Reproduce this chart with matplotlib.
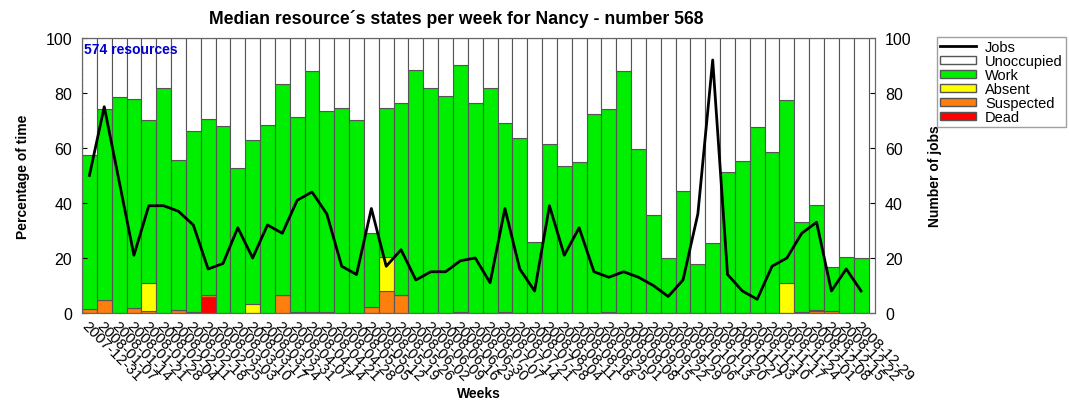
import numpy as np
import matplotlib.pyplot as plt
from matplotlib.patches import Patch
from matplotlib.lines import Line2D

plt.rcParams['font.family'] = ['Liberation Sans', 'DejaVu Sans']

# Weeks
weeks = ["2007-12-31", "2008-01-07", "2008-01-14", "2008-01-21", "2008-01-28",
         "2008-02-04", "2008-02-11", "2008-02-18", "2008-02-25", "2008-03-03",
         "2008-03-10", "2008-03-17", "2008-03-24", "2008-03-31", "2008-04-07",
         "2008-04-14", "2008-04-21", "2008-04-28", "2008-05-05", "2008-05-12",
         "2008-05-19", "2008-05-26", "2008-06-02", "2008-06-09", "2008-06-16",
         "2008-06-23", "2008-06-30", "2008-07-07", "2008-07-14", "2008-07-21",
         "2008-07-28", "2008-08-04", "2008-08-11", "2008-08-18", "2008-08-25",
         "2008-09-01", "2008-09-08", "2008-09-15", "2008-09-22", "2008-09-29",
         "2008-10-06", "2008-10-13", "2008-10-20", "2008-10-27", "2008-11-03",
         "2008-11-10", "2008-11-17", "2008-11-24", "2008-12-01", "2008-12-08",
         "2008-12-15", "2008-12-22", "2008-12-29"]

# top of the occupied part (dead + suspected + absent + work), in %
occupied = [57.5, 74.0, 78.7, 77.8, 70.3, 81.7, 55.8, 66.1, 70.6, 68.0,
            52.9, 63.0, 68.4, 83.2, 71.2, 87.9, 73.6, 74.6, 70.2, 29.2,
            74.6, 76.4, 88.5, 81.8, 78.8, 90.0, 76.4, 81.7, 69.0, 63.7,
            25.7, 61.3, 53.6, 54.8, 72.2, 74.0, 87.9, 59.7, 35.7, 20.1,
            44.2, 17.9, 25.5, 51.2, 55.4, 67.8, 58.5, 77.4, 33.0, 39.1,
            16.6, 20.3, 20.1]

dead = [0.0] * 53
dead[8] = 5.8

suspected = [1.3, 4.8, 0.0, 1.8, 0.8, 0.0, 1.0, 0.3, 0.6, 0.0,
             0.0, 0.0, 0.0, 6.5, 0.3, 0.3, 0.3, 0.0, 0.0, 2.2,
             8.1, 6.4, 0.0, 0.0, 0.0, 0.4, 0.0, 0.0, 0.4, 0.0,
             0.0, 0.0, 0.0, 0.0, 0.0, 0.2, 0.0, 0.0, 0.0, 0.0,
             0.0, 0.0, 0.0, 0.0, 0.0, 0.0, 0.0, 0.0, 0.5, 0.8,
             0.8, 0.0, 0.0]

absent = [0.0] * 53
absent[4] = 10.1
absent[11] = 3.4
absent[20] = 12.2
absent[47] = 10.9
absent[49] = 0.4

jobs = [50, 75, 48, 21, 39, 39, 37, 32, 16, 18,
        31, 20, 32, 29, 41, 44, 36, 17, 14, 38,
        17, 23, 12, 15, 15, 19, 20, 11, 38, 16,
        8, 39, 21, 31, 15, 13, 15, 13, 10, 6,
        12, 36, 92, 14, 8, 5, 17, 20, 29, 33,
        8, 16, 8]

dead = np.array(dead)
suspected = np.array(suspected)
absent = np.array(absent)
occupied = np.array(occupied)
work = occupied - dead - suspected - absent
unoccupied = 100 - occupied

x = np.arange(len(weeks))
edge = '#555555'

fig = plt.figure(figsize=(10.69, 4.06), dpi=100)
ax = fig.add_axes([0.0767, 0.2266, 0.742, 0.6774])

kw = dict(width=1.0, edgecolor=edge, linewidth=0.8)
bottom = np.zeros(len(weeks))
ax.bar(x, dead, bottom=bottom, color='#ff0000', **kw)
bottom += dead
ax.bar(x, suspected, bottom=bottom, color='#ff7f0e', **kw)
bottom += suspected
ax.bar(x, absent, bottom=bottom, color='#ffff00', **kw)
bottom += absent
ax.bar(x, work, bottom=bottom, color='#00ee00', **kw)
bottom += work
ax.bar(x, unoccupied, bottom=bottom, color='white', **kw)

ax.set_xlim(-0.5, len(weeks) - 0.5 + 0.45)
ax.set_ylim(0, 100)
ax.set_yticks([0, 20, 40, 60, 80, 100])
ax.set_xticks(x)
ax.set_xticklabels(weeks, rotation=-45, ha='left', va='top',
                   rotation_mode='anchor', fontsize=11)
ax.tick_params(axis='x', length=0, pad=4)
ax.tick_params(axis='y', direction='in', labelsize=11.5, pad=7)
ax.set_ylabel("Percentage of time", fontsize=10, fontweight='bold', labelpad=11)
ax.set_xlabel("Weeks", fontsize=10, fontweight='bold', labelpad=2)
fig.text(0.4266, 0.953, "Median resource\u00b4s states per week for Nancy - number 568",
         fontsize=12.7, fontweight='bold', ha='center', va='center')
for s in ax.spines.values():
    s.set_color('#666666')

# resources marker
ax.axvline(-0.5, color='#0000cc', linestyle=':', linewidth=1.5)
ax.text(-0.35, 98.5, "574 resources", color='#0000cc', fontsize=10,
        fontweight='bold', va='top', ha='left')

ax2 = ax.twinx()
ax2.plot(x, jobs, color='black', linewidth=2)
ax2.set_ylim(0, 100)
ax2.set_yticks([0, 20, 40, 60, 80, 100])
ax2.tick_params(axis='y', direction='in', labelsize=11.5, pad=7)
ax2.set_ylabel("Number of jobs", fontsize=10, fontweight='bold', labelpad=12)
for s in ax2.spines.values():
    s.set_color('#666666')

handles = [Line2D([], [], color='black', linewidth=2),
           Patch(facecolor='white', edgecolor=edge),
           Patch(facecolor='#00ee00', edgecolor=edge),
           Patch(facecolor='#ffff00', edgecolor=edge),
           Patch(facecolor='#ff7f0e', edgecolor=edge),
           Patch(facecolor='#ff0000', edgecolor=edge)]
labels = ["Jobs", "Unoccupied", "Work", "Absent", "Suspected", "Dead"]
fig.legend(handles, labels, loc='upper left', bbox_to_anchor=(0.8765, 0.906),
           borderaxespad=0, fontsize=10.5, frameon=True, fancybox=False,
           edgecolor='#888888', handlelength=2.5, handleheight=0.55,
           labelspacing=0.0, borderpad=0.2, handletextpad=0.6)

fig.savefig("out.png", dpi=100)
